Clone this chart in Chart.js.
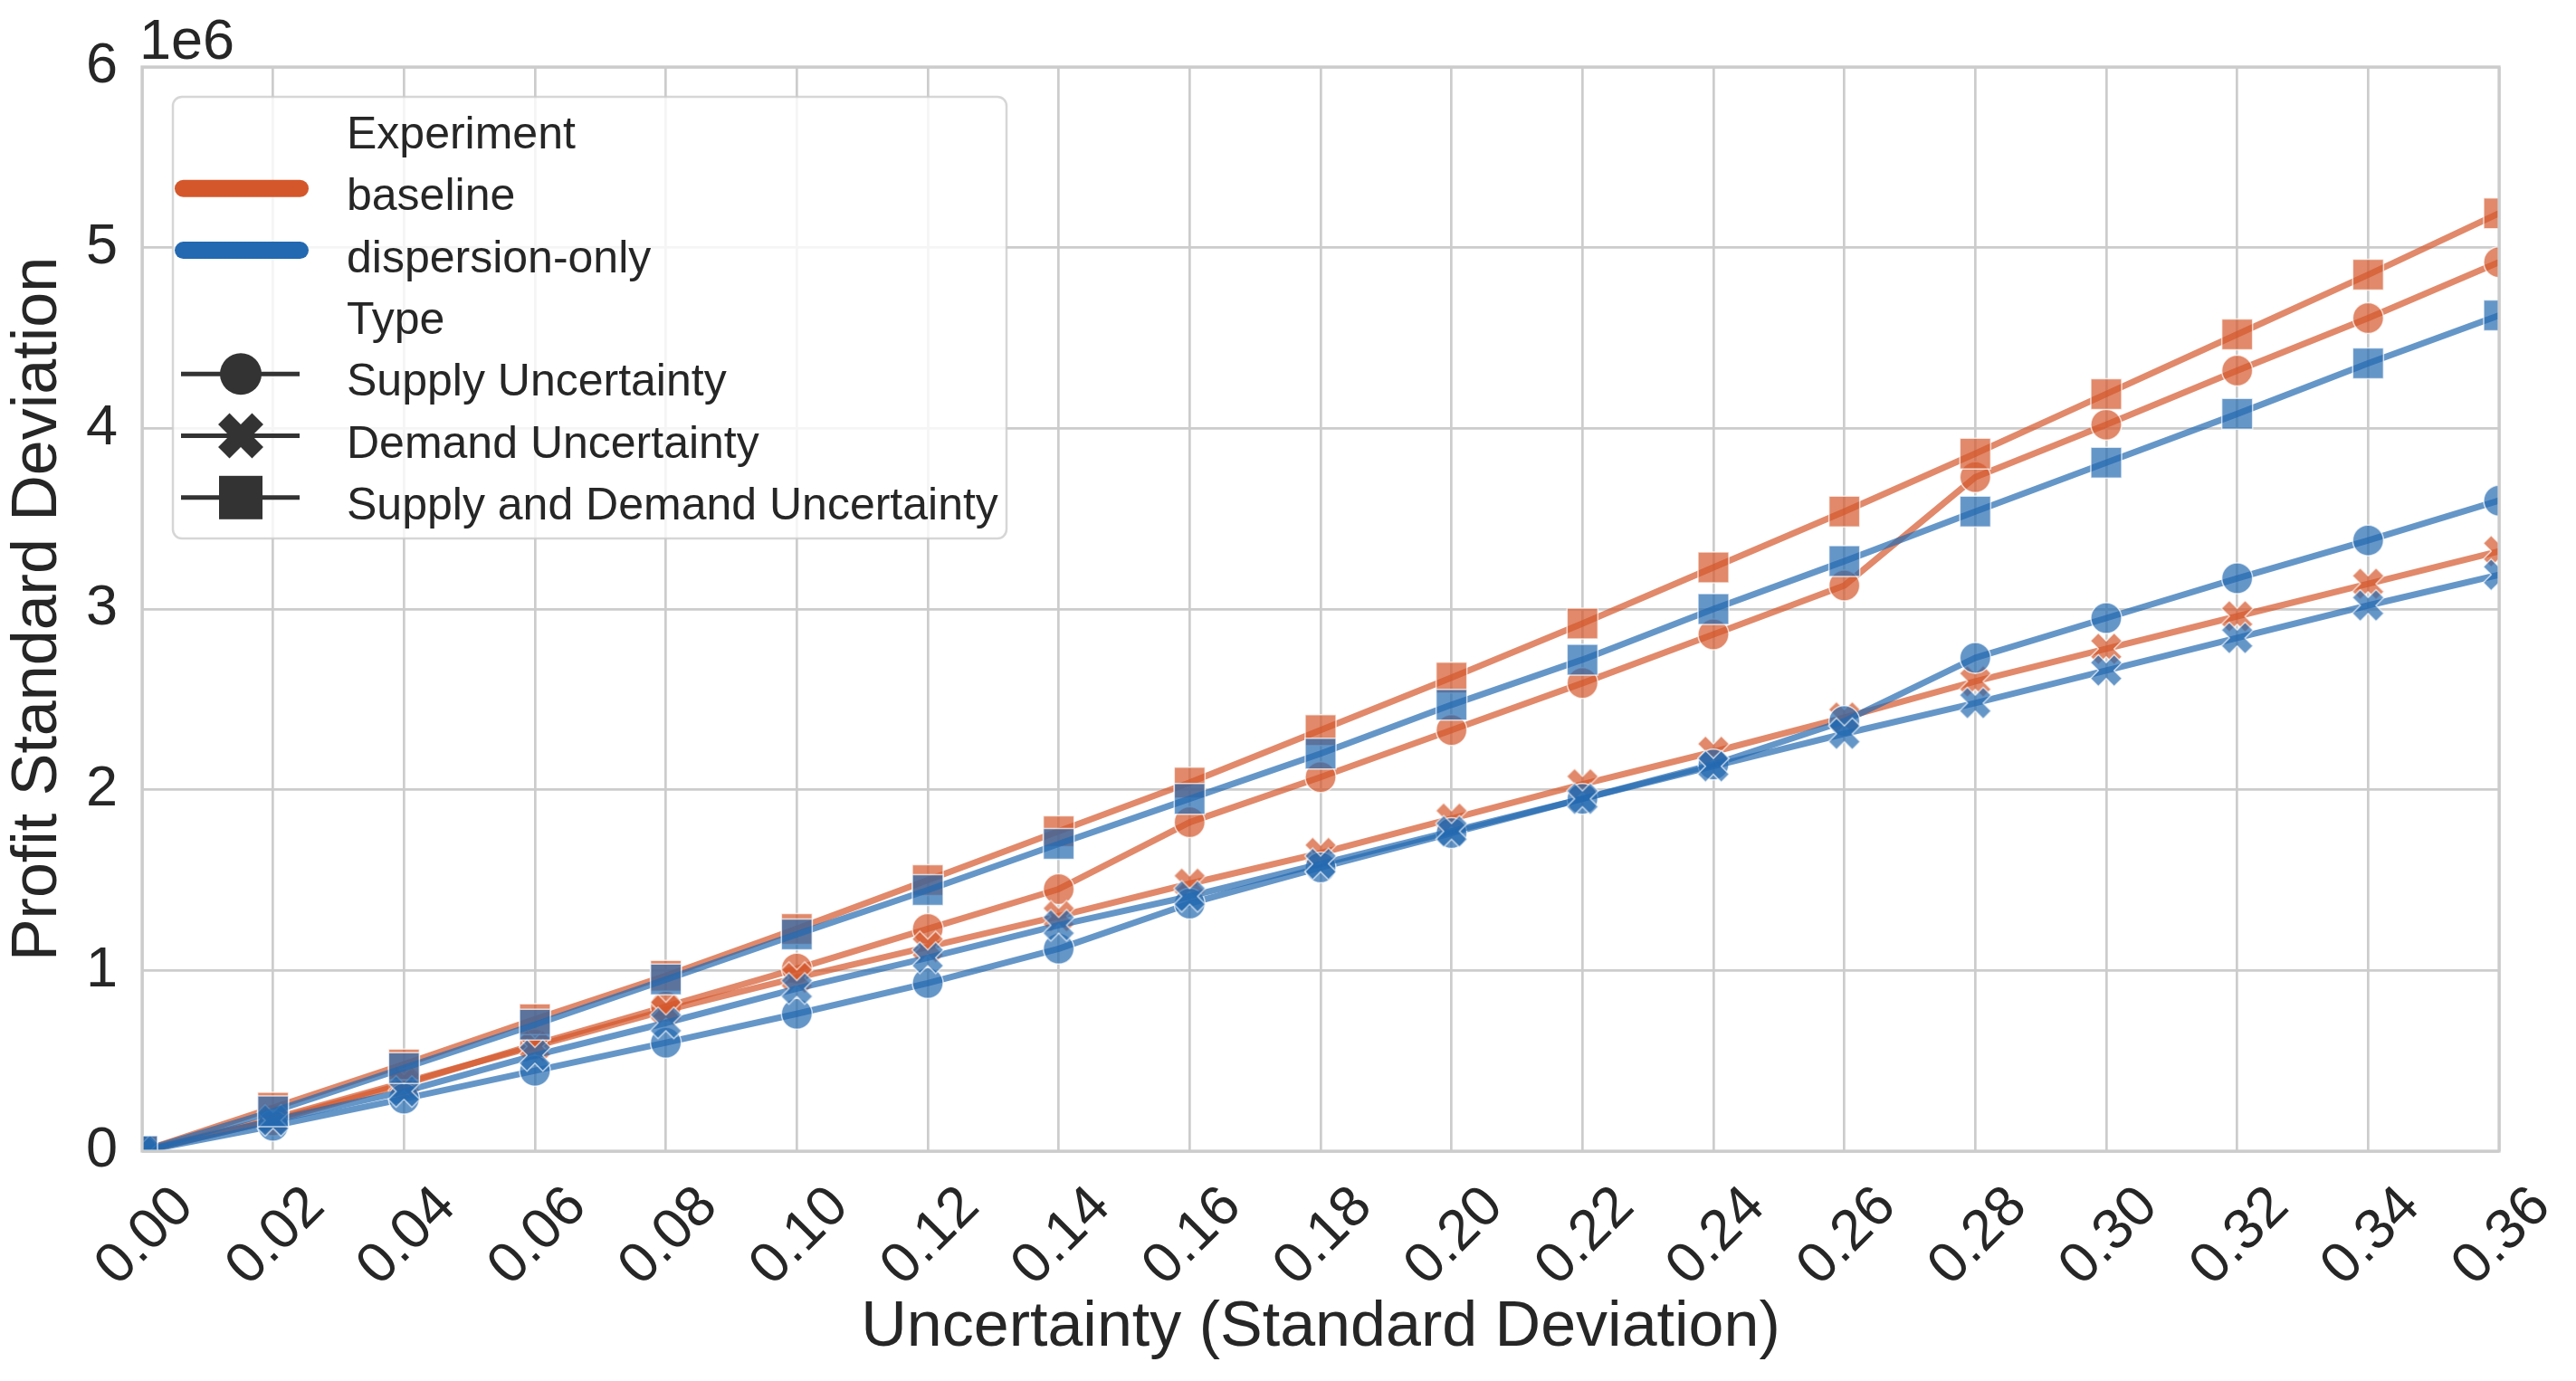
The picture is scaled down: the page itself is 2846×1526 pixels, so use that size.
<!DOCTYPE html>
<html><head><meta charset="utf-8">
<script src="https://cdn.jsdelivr.net/npm/chart.js@4.4.0/dist/chart.umd.min.js"></script>
<style>html,body{margin:0;padding:0;background:#fff;overflow:hidden}#wrap{width:2846px;height:1526px;position:relative}</style>
</head><body><div id="wrap"><canvas id="c" width="2846" height="1526"></canvas></div>
<script>
// ---------- data (values in units of 1e6) ----------
const categories = ['0.00','0.02','0.04','0.06','0.08','0.10','0.12','0.14','0.16','0.18','0.20','0.22','0.24','0.26','0.28','0.30','0.32','0.34','0.36'];
const yTickLabels = ['0','1','2','3','4','5','6'];
const yOffsetText = '1e6';
const xAxisTitle = 'Uncertainty (Standard Deviation)';
const yAxisTitle = 'Profit Standard Deviation';
const legendExperimentTitle = 'Experiment';
const experiments = ['baseline', 'dispersion-only'];
const legendTypeTitle = 'Type';
const types = ['Supply Uncertainty', 'Demand Uncertainty', 'Supply and Demand Uncertainty'];

const baselineSupply = [0, 0.17, 0.37, 0.59, 0.80, 1.01, 1.23, 1.45, 1.82, 2.07, 2.33, 2.59, 2.86, 3.13, 3.73, 4.02, 4.32, 4.61, 4.92];
const baselineDemand = [0, 0.18, 0.38, 0.58, 0.78, 0.96, 1.13, 1.30, 1.48, 1.65, 1.84, 2.03, 2.21, 2.40, 2.60, 2.78, 2.96, 3.14, 3.32];
const baselineBoth   = [0, 0.24, 0.48, 0.73, 0.97, 1.23, 1.50, 1.77, 2.04, 2.33, 2.62, 2.92, 3.23, 3.54, 3.86, 4.19, 4.52, 4.85, 5.19];
const dispersionSupply = [0, 0.14, 0.29, 0.445, 0.60, 0.76, 0.93, 1.12, 1.37, 1.57, 1.76, 1.95, 2.14, 2.38, 2.73, 2.95, 3.17, 3.38, 3.60];
const dispersionDemand = [0, 0.17, 0.33, 0.53, 0.71, 0.90, 1.07, 1.25, 1.41, 1.59, 1.77, 1.95, 2.13, 2.31, 2.48, 2.66, 2.84, 3.02, 3.19];
const dispersionBoth   = [0, 0.22, 0.46, 0.70, 0.95, 1.20, 1.445, 1.70, 1.95, 2.20, 2.47, 2.72, 3.00, 3.265, 3.54, 3.81, 4.08, 4.36, 4.625];

// ---------- styles ----------
const FONT = "'Liberation Sans', Arial, sans-serif";
const TEXT = '#262626';
const ORANGE = [212, 87, 43];
const BLUE = [35, 105, 177];
const ALPHA = 0.7;
const MS = 34;   // circle / square marker size in px
const MSX = 37;  // filled X marker size in px
const TICK = 63; // tick label font size
const rgba = (c, a) => `rgba(${c[0]},${c[1]},${c[2]},${a})`;

function xPath(ctx, cx, cy, size) {
  const pts = [[-1,-3],[1,-3],[1,-1],[3,-1],[3,1],[1,1],[1,3],[-1,3],[-1,1],[-3,1],[-3,-1],[-1,-1]];
  const c = Math.SQRT1_2;
  ctx.beginPath();
  pts.forEach((p, i) => {
    const px = p[0] / 6 * size, py = p[1] / 6 * size;
    const rx = (px - py) * c, ry = (px + py) * c;
    if (i === 0) ctx.moveTo(cx + rx, cy + ry); else ctx.lineTo(cx + rx, cy + ry);
  });
  ctx.closePath();
}
function makeX(fill, edge, edgeW, size) {
  const cv = document.createElement('canvas');
  const n = Math.ceil(size + edgeW * 2 + 4);
  cv.width = n; cv.height = n;
  const g = cv.getContext('2d');
  xPath(g, n / 2, n / 2, size);
  g.fillStyle = fill; g.fill();
  g.lineWidth = edgeW; g.strokeStyle = edge; g.lineJoin = 'miter'; g.stroke();
  return cv;
}

function makeDataset(label, data, color, style, order) {
  const isX = style === 'x';
  const r = style === 'rect' ? MS / (2 * Math.SQRT1_2) : MS / 2;
  return {
    label, data, order,
    borderColor: rgba(color, ALPHA),
    backgroundColor: rgba(color, ALPHA),
    borderWidth: 7,
    borderJoinStyle: 'round',
    tension: 0,
    clip: 0,
    pointStyle: isX ? makeX(rgba(color, ALPHA), 'rgba(255,255,255,0.7)', 1.5, MSX) : style,
    pointRadius: r,
    pointHoverRadius: r,
    pointBackgroundColor: rgba(color, ALPHA),
    pointBorderColor: 'rgba(255,255,255,0.7)',
    pointBorderWidth: 1.5
  };
}

const datasets = [
  makeDataset(experiments[0] + ' / ' + types[0], baselineSupply, ORANGE, 'circle', 6),
  makeDataset(experiments[0] + ' / ' + types[1], baselineDemand, ORANGE, 'x', 5),
  makeDataset(experiments[0] + ' / ' + types[2], baselineBoth, ORANGE, 'rect', 4),
  makeDataset(experiments[1] + ' / ' + types[0], dispersionSupply, BLUE, 'circle', 3),
  makeDataset(experiments[1] + ' / ' + types[1], dispersionDemand, BLUE, 'x', 2),
  makeDataset(experiments[1] + ' / ' + types[2], dispersionBoth, BLUE, 'rect', 1)
];

function roundRect(ctx, x, y, w, h, r) {
  ctx.beginPath();
  ctx.moveTo(x + r, y);
  ctx.lineTo(x + w - r, y); ctx.arcTo(x + w, y, x + w, y + r, r);
  ctx.lineTo(x + w, y + h - r); ctx.arcTo(x + w, y + h, x + w - r, y + h, r);
  ctx.lineTo(x + r, y + h); ctx.arcTo(x, y + h, x, y + h - r, r);
  ctx.lineTo(x, y + r); ctx.arcTo(x, y, x + r, y, r);
  ctx.closePath();
}

const overlay = {
  id: 'overlay',
  afterDatasetsDraw(chart) {
    const { ctx, chartArea: a, scales } = chart;
    const xs = scales.x;
    ctx.save();
    // frame (spines)
    ctx.strokeStyle = '#cccccc';
    ctx.lineWidth = 3.3;
    ctx.strokeRect(a.left, a.top, a.right - a.left, a.bottom - a.top);

    // offset text
    ctx.fillStyle = TEXT;
    ctx.font = `${TICK}px ${FONT}`;
    ctx.textAlign = 'left';
    ctx.textBaseline = 'alphabetic';
    ctx.fillText(yOffsetText, a.left - 3, a.top - 9);

    // x tick labels, rotated 45 deg, centred on tick
    categories.forEach((lab, i) => {
      const px = xs.getPixelForValue(i);
      ctx.save();
      ctx.translate(px, a.bottom + 91);
      ctx.rotate(-Math.PI / 4);
      ctx.textAlign = 'center';
      ctx.textBaseline = 'alphabetic';
      ctx.fillText(lab, 0, 0.36 * TICK);
      ctx.restore();
    });

    // legend
    const L = a.left + 34, T = a.top + 33, W = 921, H = 488;
    roundRect(ctx, L, T, W, H, 10);
    ctx.fillStyle = 'rgba(255,255,255,0.8)';
    ctx.fill();
    ctx.strokeStyle = 'rgba(204,204,204,0.8)';
    ctx.lineWidth = 2.5;
    ctx.stroke();

    const textX = L + 192;
    const rowBase = (k) => T + 57 + k * 68.3;
    ctx.font = `50px ${FONT}`;
    ctx.fillStyle = TEXT;
    ctx.textAlign = 'left';
    ctx.textBaseline = 'alphabetic';
    const rows = [legendExperimentTitle, experiments[0], experiments[1], legendTypeTitle, types[0], types[1], types[2]];
    rows.forEach((t, k) => ctx.fillText(t, textX, rowBase(k)));

    // experiment handles
    [[ORANGE, 1], [BLUE, 2]].forEach(([c, k]) => {
      const yy = rowBase(k) - 24;
      ctx.beginPath();
      ctx.moveTo(L + 11.5, yy); ctx.lineTo(L + 140.5, yy);
      ctx.lineWidth = 19; ctx.lineCap = 'round';
      ctx.strokeStyle = rgba(c, 1);
      ctx.stroke();
    });
    // type handles
    const gray = '#333333';
    ['circle', 'x', 'rect'].forEach((st, j) => {
      const yy = rowBase(4 + j) - 24;
      ctx.beginPath();
      ctx.moveTo(L + 9, yy); ctx.lineTo(L + 140, yy);
      ctx.lineWidth = 5; ctx.lineCap = 'butt'; ctx.strokeStyle = gray;
      ctx.stroke();
      const cx = L + 75;
      ctx.fillStyle = gray;
      if (st === 'circle') { ctx.beginPath(); ctx.arc(cx, yy, 23, 0, Math.PI * 2); ctx.fill(); }
      else if (st === 'rect') { ctx.fillRect(cx - 24, yy - 24, 48, 48); }
      else { xPath(ctx, cx, yy, 53); ctx.fill(); }
    });
    ctx.restore();
  }
};

Chart.defaults.font.family = FONT;
Chart.defaults.color = TEXT;

new Chart(document.getElementById('c'), {
  type: 'line',
  data: { labels: categories, datasets },
  options: {
    responsive: false,
    devicePixelRatio: 1,
    animation: false,
    events: [],
    layout: { padding: { top: 74, right: 85, left: 0, bottom: 0 } },
    plugins: { legend: { display: false }, tooltip: { enabled: false } },
    scales: {
      x: {
        type: 'category',
        offset: false,
        grid: { color: '#cccccc', lineWidth: 2.7, drawTicks: false },
        border: { display: false },
        ticks: { display: false },
        title: { display: true, text: xAxisTitle, font: { size: 70, family: FONT }, color: TEXT, padding: { top: 0, bottom: 16 } },
        afterFit: (s) => { s.height = 254; }
      },
      y: {
        type: 'linear',
        min: 0, max: 6,
        grid: { color: '#cccccc', lineWidth: 2.7, drawTicks: false },
        border: { display: false },
        ticks: {
          stepSize: 1, padding: 27,
          font: { size: TICK, family: FONT }, color: TEXT,
          callback: (v) => yTickLabels[v] !== undefined ? yTickLabels[v] : ''
        },
        title: { display: true, text: yAxisTitle, font: { size: 70, family: FONT }, color: TEXT, padding: { top: 1, bottom: 0 } },
        afterFit: (s) => { s.width = 157; }
      }
    }
  },
  plugins: [overlay]
});
</script>
</body></html>
